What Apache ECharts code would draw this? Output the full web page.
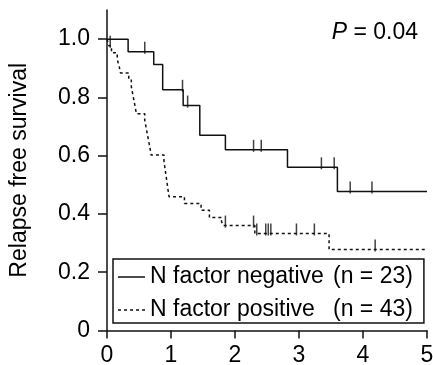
<!DOCTYPE html>
<html>
<head>
<meta charset="utf-8">
<script src="https://cdn.jsdelivr.net/npm/echarts@6/dist/echarts.min.js"></script>
<style>
  html, body { margin: 0; padding: 0; background: #fff; }
  #chart { width: 433px; height: 365px; }
</style>
</head>
<body>
<div id="chart"></div>
<script>
// Kaplan-Meier relapse-free survival by N factor status (years on x)
const groupNames = ['N factor negative', 'N factor positive'];
const groupCounts = [23, 43];

// N factor negative: step times and survival after each step
const negTimes = [0, 0.33, 0.73, 0.87, 1.19, 1.45, 1.85, 2.82, 3.60, 5.0];
const negSurv  = [1, 0.957, 0.913, 0.826, 0.772, 0.670, 0.620, 0.560, 0.477, 0.477];
const negCensorTimes = [0.59, 1.18, 1.26, 2.29, 2.41, 3.35, 3.55, 3.80, 4.14];

// N factor positive
const posTimes = [0, 0.03, 0.07, 0.16, 0.19, 0.21, 0.34, 0.38, 0.40, 0.42, 0.44, 0.46,
                  0.59, 0.61, 0.63, 0.65, 0.67, 0.69, 0.89, 0.905, 0.92, 0.935, 0.95, 0.97,
                  1.21, 1.47, 1.60, 1.79, 1.82, 2.31, 3.47, 5.0];
const posSurv  = [1, 0.977, 0.953, 0.930, 0.907, 0.884, 0.860, 0.837, 0.814, 0.791, 0.767, 0.744,
                  0.721, 0.698, 0.674, 0.651, 0.628, 0.602, 0.581, 0.558, 0.535, 0.512, 0.488, 0.459,
                  0.436, 0.413, 0.388, 0.373, 0.360, 0.333, 0.278, 0.278];
const posCensorTimes = [0.05, 1.85, 2.29, 2.34, 2.48, 2.52, 2.56, 2.96, 3.24, 4.19];

const xTicks = [0, 1, 2, 3, 4, 5];
const yTicks = [0, 0.2, 0.4, 0.6, 0.8, 1.0];
const pValue = '0.04';

const FONT = '"Liberation Sans", Arial, Helvetica, sans-serif';

function levelAt(times, surv, t) {
  let s = surv[0];
  for (let i = 0; i < times.length; i++) if (times[i] <= t) s = surv[i];
  return s;
}
const stepData = (times, surv) => times.map((t, i) => [t, surv[i]]);
const censorData = (ct, times, surv) => ct.map(t => [t, levelAt(times, surv, t)]);

const lineStyles = [
  { color: '#111', width: 1.5, type: 'solid' },
  { color: '#111', width: 1.5, type: [3, 3] }
];

// legend keys: a plain bar and a dashed bar (filled paths, 27 x 1.5)
const solidKey = 'path://M0,0h27v1.5h-27z';
const dashedKey = 'path://M0,0h3v1.5h-3zM6,0h3v1.5h-3zM12,0h3v1.5h-3zM18,0h3v1.5h-3zM24,0h3v1.5h-3z';

const censorSeries = (name, data) => ({
  name: name + ' censored',
  type: 'scatter',
  data: data,
  symbol: 'rect',
  symbolSize: [1.5, 12],
  symbolOffset: [0, -4],
  itemStyle: { color: '#111' },
  silent: true,
  z: 3
});

const chart = echarts.init(document.getElementById('chart'), null, { renderer: 'canvas' });
chart.setOption({
  animation: false,
  backgroundColor: '#fff',
  textStyle: { fontFamily: FONT, color: '#000' },
  title: {
    text: '{p|P} = ' + pValue,
    right: 15,
    top: 20,
    padding: 0,
    textStyle: {
      fontFamily: FONT, fontSize: 23, fontWeight: 'normal', color: '#000', lineHeight: 26,
      rich: { p: { fontFamily: FONT, fontSize: 23, fontStyle: 'italic', color: '#000', lineHeight: 26 } }
    }
  },
  grid: { left: 107, right: 6, top: 10, bottom: 34.5, outerBoundsMode: 'none' },
  legend: {
    data: [
      { name: groupNames[0], icon: solidKey },
      { name: groupNames[1], icon: dashedKey }
    ],
    orient: 'vertical',
    left: 113,
    top: 259,
    padding: [6, 11, 1, 5],
    itemGap: 9,
    itemWidth: 27,
    itemHeight: 1.5,
    borderColor: '#111',
    borderWidth: 1.5,
    backgroundColor: '#fff',
    selectedMode: false,
    itemStyle: { color: '#111' },
    formatter: name => '{a|' + name + '}{b|(n = ' + groupCounts[groupNames.indexOf(name)] + ')}',
    textStyle: {
      fontFamily: FONT, fontSize: 23, color: '#000', lineHeight: 24,
      rich: {
        a: { fontFamily: FONT, fontSize: 23, color: '#000', width: 183, lineHeight: 24 },
        b: { fontFamily: FONT, fontSize: 23, color: '#000', lineHeight: 24 }
      }
    }
  },
  xAxis: {
    type: 'value',
    min: 0, max: 5, interval: 1,
    axisLine: { onZero: false, lineStyle: { color: '#111', width: 1.5 } },
    axisTick: { length: 8, lineStyle: { color: '#111', width: 1.5 } },
    axisLabel: { fontFamily: FONT, fontSize: 23, color: '#000', margin: 14,
                 formatter: v => xTicks.includes(v) ? String(v) : '' },
    splitLine: { show: false }
  },
  yAxis: {
    type: 'value',
    min: 0, max: 1.1,
    name: 'Relapse free survival',
    nameLocation: 'middle',
    nameGap: 76,
    nameTextStyle: { fontFamily: FONT, fontSize: 23, color: '#000' },
    axisLine: { show: true, lineStyle: { color: '#111', width: 1.5 } },
    axisTick: { show: true, customValues: yTicks, length: 9, lineStyle: { color: '#111', width: 1.5 } },
    axisLabel: { customValues: yTicks, fontFamily: FONT, fontSize: 23, color: '#000', margin: 17,
                 formatter: v => v === 0 ? '0' : v.toFixed(1) },
    splitLine: { show: false }
  },
  series: [
    {
      name: groupNames[0], type: 'line', step: 'end', symbol: 'none',
      data: stepData(negTimes, negSurv), lineStyle: lineStyles[0], itemStyle: { color: '#111' }, z: 2
    },
    {
      name: groupNames[1], type: 'line', step: 'end', symbol: 'none',
      data: stepData(posTimes, posSurv), lineStyle: lineStyles[1], itemStyle: { color: '#111' }, z: 2
    },
    censorSeries(groupNames[0], censorData(negCensorTimes, negTimes, negSurv)),
    censorSeries(groupNames[1], censorData(posCensorTimes, posTimes, posSurv))
  ]
});
</script>
</body>
</html>
